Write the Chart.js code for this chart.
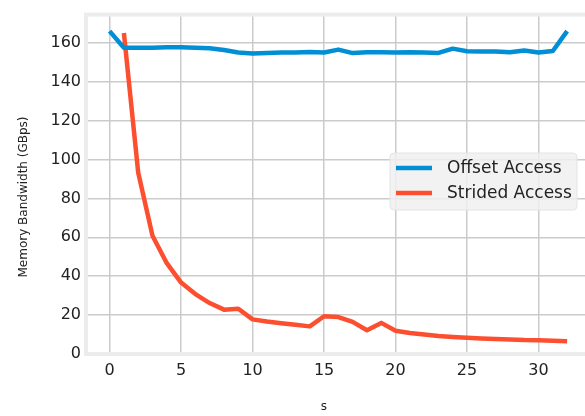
<!DOCTYPE html>
<html>
<head>
<meta charset="utf-8">
<script src="https://cdn.jsdelivr.net/npm/chart.js@4/dist/chart.umd.min.js"></script>
<style>
html,body{margin:0;padding:0;background:#fff;overflow:hidden;}
#wrap{width:585px;height:416px;position:relative;}
</style>
</head>
<body>
<div id="wrap"><canvas id="c" width="585" height="416"></canvas></div>
<script>
const strides = [0,1,2,3,4,5,6,7,8,9,10,11,12,13,14,15,16,17,18,19,20,21,22,23,24,25,26,27,28,29,30,31,32];
const offsetAccess = [166,157.5,157.5,157.5,157.7,157.7,157.5,157.2,156.3,155,154.5,154.8,155,155,155.3,155,156.5,154.7,155.2,155.2,155,155.2,155,154.8,157,155.7,155.5,155.5,155.2,156,155,155.8,166];
const stridedS = [1,2,3,4,5,6,7,8,9,10,11,12,13,14,15,16,17,18,19,20,21,22,23,24,25,26,27,28,29,30,31,32];
const stridedAccess = [165,93.3,60.8,46.7,36.7,30.8,26.2,22.8,23.3,17.8,16.7,15.8,15,14.2,19.4,19,16.5,12.2,16,12,10.8,10,9.2,8.7,8.3,8,7.7,7.5,7.2,7.1,6.8,6.6];
const seriesNames = ['Offset Access','Strided Access'];
const yTicks = [0,20,40,60,80,100,120,140,160];
const xTicks = [0,5,10,15,20,25,30];
const xTitle = 's';
const yTitle = 'Memory Bandwidth (GBps)';

const BLUE = '#008fd5', RED = '#fc4f30';

const framePlugin = {
  id: 'frame',
  beforeDatasetsDraw(chart) {
    const a = chart.chartArea, ctx = chart.ctx;
    ctx.save();
    ctx.strokeStyle = '#ececec';
    ctx.lineWidth = 4;
    ctx.strokeRect(a.left, a.top, a.right - a.left + 10, a.bottom - a.top);
    ctx.restore();
  },
  afterDraw(chart) {
    const ctx = chart.ctx;
    ctx.save();
    // axis titles
    ctx.fillStyle = '#222';
    ctx.font = '12px "DejaVu Sans"';
    ctx.textAlign = 'center';
    ctx.textBaseline = 'middle';
    ctx.fillText(xTitle, 324, 407);
    ctx.translate(24, 197);
    ctx.rotate(-Math.PI / 2);
    ctx.fillText(yTitle, 0, 0);
    ctx.restore();
    // legend
    ctx.save();
    const lx = 390, ly = 153, lw = 187, lh = 57, r = 4;
    ctx.beginPath();
    ctx.moveTo(lx + r, ly);
    ctx.arcTo(lx + lw, ly, lx + lw, ly + lh, r);
    ctx.arcTo(lx + lw, ly + lh, lx, ly + lh, r);
    ctx.arcTo(lx, ly + lh, lx, ly, r);
    ctx.arcTo(lx, ly, lx + lw, ly, r);
    ctx.closePath();
    ctx.fillStyle = 'rgba(240,240,240,0.85)';
    ctx.fill();
    ctx.strokeStyle = '#e4e4e4';
    ctx.lineWidth = 1;
    ctx.stroke();
    ctx.font = '17px "DejaVu Sans"';
    ctx.textAlign = 'left';
    ctx.textBaseline = 'middle';
    chart.data.datasets.forEach((ds, i) => {
      const y = 168 + i * 25;
      ctx.strokeStyle = ds.borderColor;
      ctx.lineWidth = 4.5;
      ctx.beginPath();
      ctx.moveTo(396, y);
      ctx.lineTo(432, y);
      ctx.stroke();
      ctx.fillStyle = '#222';
      ctx.fillText(ds.label, 447, y + 1);
    });
    ctx.restore();
  }
};

new Chart(document.getElementById('c'), {
  type: 'line',
  data: {
    datasets: [
      { label: seriesNames[0], data: strides.map((s, i) => ({x: s, y: offsetAccess[i]})),
        borderColor: BLUE, backgroundColor: BLUE, borderWidth: 4.5, pointRadius: 0, tension: 0,
        borderJoinStyle: 'round', borderCapStyle: 'butt' },
      { label: seriesNames[1], data: stridedS.map((s, i) => ({x: s, y: stridedAccess[i]})),
        borderColor: RED, backgroundColor: RED, borderWidth: 4.5, pointRadius: 0, tension: 0,
        borderJoinStyle: 'round', borderCapStyle: 'butt' }
    ]
  },
  options: {
    responsive: false,
    animation: false,
    events: [],
    layout: { padding: { top: 5, right: 0, left: 0, bottom: 0 } },
    plugins: { legend: { display: false }, tooltip: { enabled: false } },
    scales: {
      x: {
        type: 'linear',
        min: -1.65,
        max: 33.25,
        afterFit(scale) { scale.height = 62; },
        afterBuildTicks(scale) { scale.ticks = xTicks.map(v => ({value: v})); },
        grid: { color: '#cbcbcb', lineWidth: 1.5, drawTicks: false },
        border: { display: false },
        ticks: { color: '#222', font: { family: 'DejaVu Sans', size: 16 }, padding: 7, maxRotation: 0 }
      },
      y: {
        type: 'linear',
        min: 0,
        max: 174.5,
        afterFit(scale) { scale.width = 86; },
        afterBuildTicks(scale) { scale.ticks = yTicks.map(v => ({value: v})); },
        grid: { color: '#cbcbcb', lineWidth: 1.5, drawTicks: false },
        border: { display: false },
        ticks: { color: '#222', font: { family: 'DejaVu Sans', size: 16 }, padding: 5 }
      }
    }
  },
  plugins: [framePlugin]
});
</script>
</body>
</html>
